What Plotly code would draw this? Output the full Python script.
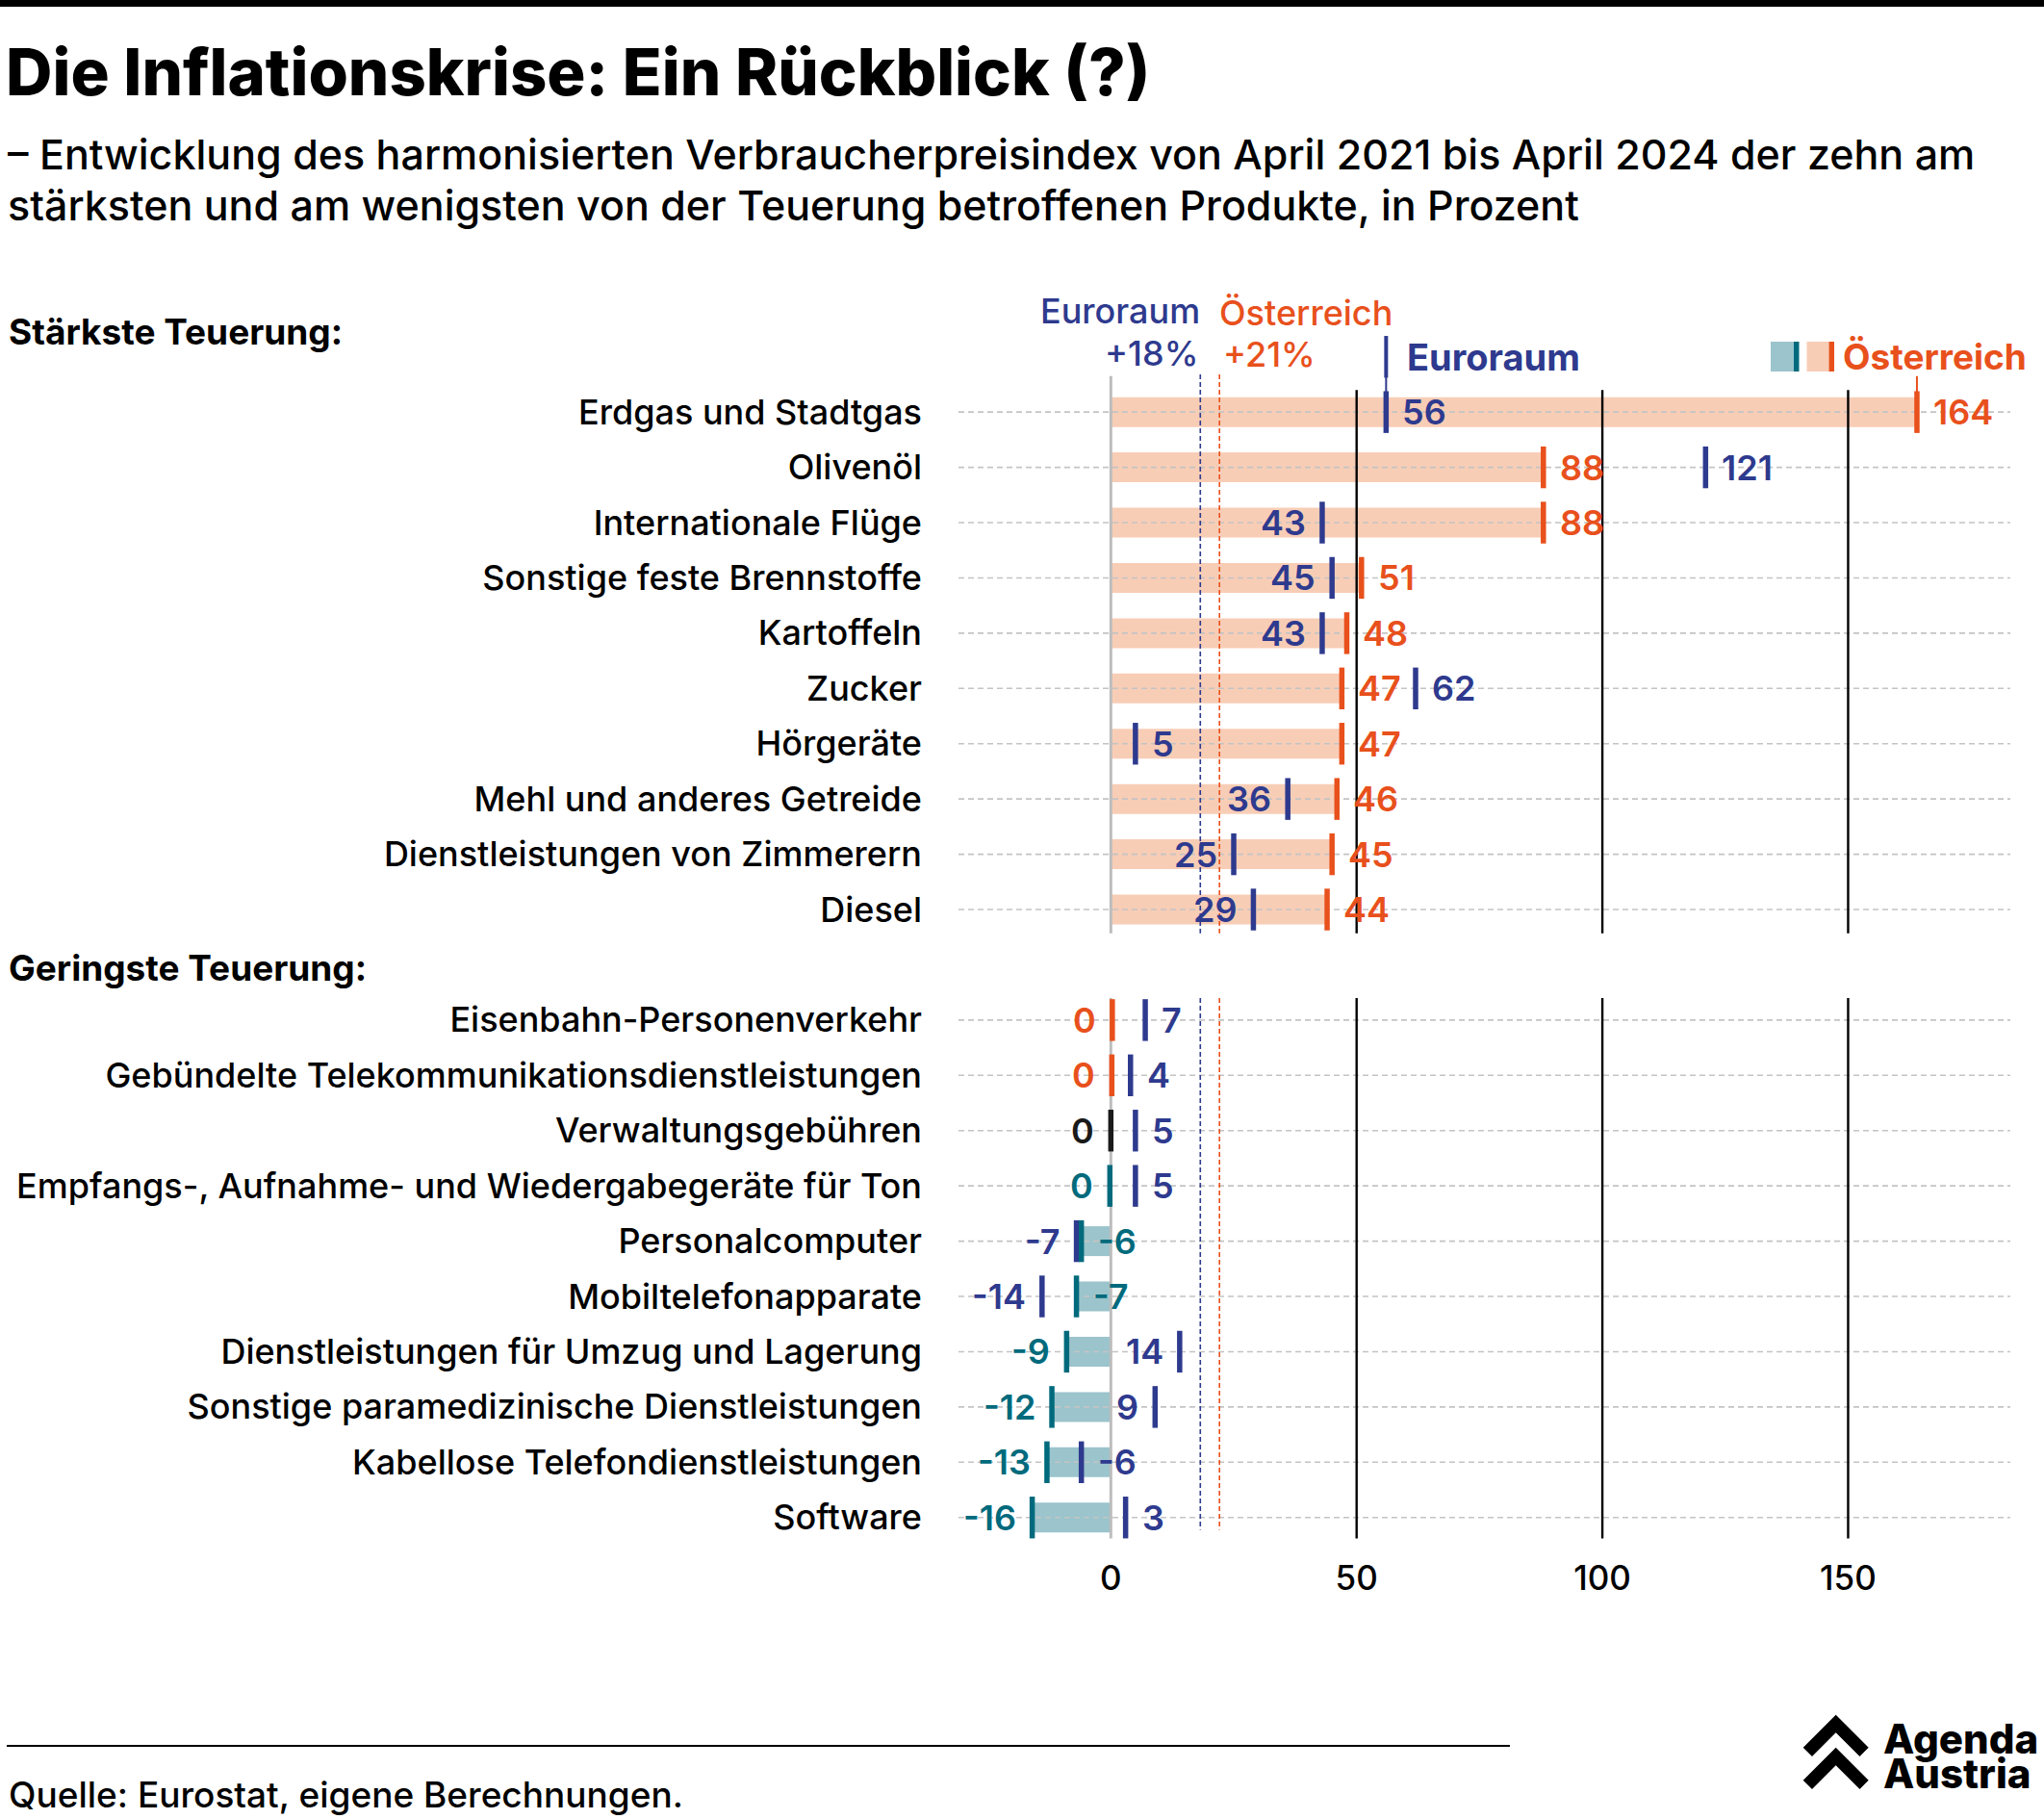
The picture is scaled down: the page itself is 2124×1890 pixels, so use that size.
import plotly.graph_objects as go

# ---- data -------------------------------------------------------------
top_labels = [
    "Erdgas und Stadtgas", "Olivenöl", "Internationale Flüge",
    "Sonstige feste Brennstoffe", "Kartoffeln", "Zucker", "Hörgeräte",
    "Mehl und anderes Getreide", "Dienstleistungen von Zimmerern", "Diesel",
]
top_at = [164, 88, 88, 51, 48, 47, 47, 46, 45, 44]
top_eu = [56, 121, 43, 45, 43, 62, 5, 36, 25, 29]

bottom_labels = [
    "Eisenbahn-Personenverkehr",
    "Gebündelte Telekommunikationsdienstleistungen",
    "Verwaltungsgebühren",
    "Empfangs-, Aufnahme- und Wiedergabegeräte für Ton",
    "Personalcomputer", "Mobiltelefonapparate",
    "Dienstleistungen für Umzug und Lagerung",
    "Sonstige paramedizinische Dienstleistungen",
    "Kabellose Telefondienstleistungen", "Software",
]
bottom_at = [0.3, 0.2, 0.0, -0.2, -6, -7, -9, -12, -13, -16]
bottom_eu = [7, 4, 5, 5, -7, -14, 14, 9, -6, 3]

avg_eu = 18.2
avg_at = 22.1
avg_eu_text = "+18%"
avg_at_text = "+21%"
x_ticks = [0, 50, 100, 150]

# ---- style -------------------------------------------------------------
FONT = "Inter"
BLUE = "#2E3A8E"
ORANGE = "#E8501C"
PEACH = "#F8CDB6"
TEAL = "#006A7D"
TEAL_LIGHT = "#9BC4CC"
GREY = "#BDBDBD"

W, H = 2124, 1890
L, R, T, B = 996, 2089, 280, 1600
X_MIN, X_MAX = -31, 183


def px(x):
    return (x - L) / (R - L)


def py(y):
    return (B - y) / (B - T)


def at_color(v, pos_color):
    if v > 0:
        return pos_color
    if v < 0:
        return TEAL
    return "#1A1A1A"


top_y = list(range(len(top_labels)))
bot_y = [len(top_labels) + 1 + i for i in range(len(bottom_labels))]
all_y = top_y + bot_y
all_at = top_at + bottom_at
all_eu = top_eu + bottom_eu

fig = go.Figure()

# bars (Austria)
fig.add_trace(go.Bar(
    x=all_at, y=all_y, orientation="h", width=0.54,
    marker=dict(color=[PEACH if v > 0 else TEAL_LIGHT for v in all_at], line=dict(width=0)),
    hoverinfo="skip",
))

# dashed row lines
gx, gy = [], []
for y in all_y:
    gx += [X_MIN, X_MAX, None]
    gy += [y, y, None]
fig.add_trace(go.Scatter(x=gx, y=gy, mode="lines",
                         line=dict(color="#C4C4C4", width=1.6, dash="6px,4px"),
                         hoverinfo="skip"))

top_span = (-0.4, 9.43)
bot_span = (10.6, 20.38)


def vline(x, spans, color, width, dash="solid"):
    xs, ys = [], []
    for a, b in spans:
        xs += [x, x, None]
        ys += [a, b, None]
    fig.add_trace(go.Scatter(x=xs, y=ys, mode="lines",
                             line=dict(color=color, width=width, dash=dash),
                             hoverinfo="skip"))


for v in x_ticks:
    if v == 0:
        vline(v, [(-0.65, top_span[1]), bot_span], GREY, 3)
    else:
        vline(v, [top_span, bot_span], "#000000", 2.4)
vline(avg_eu, [(-0.68, top_span[1]), (bot_span[0], 20.22)], BLUE, 1.6, "5px,3px")
vline(avg_at, [(-0.68, top_span[1]), (bot_span[0], 20.22)], ORANGE, 1.6, "5px,3px")

# pointer lines from legend to first row
fig.add_trace(go.Scatter(x=[top_eu[0], top_eu[0]], y=[-1.0, 0], mode="lines",
                         line=dict(color=BLUE, width=2), hoverinfo="skip"))
fig.add_trace(go.Scatter(x=[top_at[0], top_at[0]], y=[-0.65, 0], mode="lines",
                         line=dict(color=ORANGE, width=2), hoverinfo="skip"))

# tick markers
at_colors = [ORANGE] * len(top_at) + [at_color(v, ORANGE) for v in bottom_at]
fig.add_trace(go.Scatter(
    x=all_eu, y=all_y, mode="markers",
    marker=dict(symbol="line-ns", size=31, line=dict(width=5.5, color=BLUE)),
    hoverinfo="skip"))
fig.add_trace(go.Scatter(
    x=all_at, y=all_y, mode="markers",
    marker=dict(symbol="line-ns", size=31, line=dict(width=5.5, color=at_colors)),
    hoverinfo="skip"))
# legend marker Euroraum
fig.add_trace(go.Scatter(
    x=[top_eu[0]], y=[-1.0], mode="markers",
    marker=dict(symbol="line-ns", size=31, line=dict(width=4, color=BLUE)),
    hoverinfo="skip"))

annotations = []


def val_label(x, y, text, color, side):
    annotations.append(dict(
        x=x, y=y, xref="x", yref="y", text=text, showarrow=False,
        xanchor="left" if side == "right" else "right", yanchor="middle",
        xshift=15 if side == "right" else -15,
        font=dict(family=FONT, size=36, color=color, weight=600)))


for y, a, e in zip(top_y, top_at, top_eu):
    val_label(a, y, f"{round(a)}", ORANGE, "right")
    e_side = "left" if (e < a and a - e < 50 and e >= 10) else "right"
    val_label(e, y, f"{round(e)}", BLUE, e_side)

for y, a, e in zip(bot_y, bottom_at, bottom_eu):
    a_side = "right" if e < a else "left"
    val_label(a, y, f"{round(a)}", at_color(a, ORANGE), a_side)
    e_side = "left" if (e < a or e > 8) else "right"
    val_label(e, y, f"{round(e)}", BLUE, e_side)

# averages
annotations += [
    dict(x=avg_eu, y=-1.84, xref="x", yref="y", text="Euroraum", showarrow=False,
         xanchor="right", yanchor="middle", xshift=2,
         font=dict(family=FONT, size=36, color=BLUE, weight=500)),
    dict(x=avg_eu, y=-1.07, xref="x", yref="y", text=avg_eu_text, showarrow=False,
         xanchor="right", yanchor="middle", xshift=0,
         font=dict(family=FONT, size=36, color=BLUE, weight=500)),
    dict(x=avg_at, y=-1.80, xref="x", yref="y", text="Österreich", showarrow=False,
         xanchor="left", yanchor="middle", xshift=-2,
         font=dict(family=FONT, size=36, color=ORANGE, weight=500)),
    dict(x=avg_at, y=-1.04, xref="x", yref="y", text=avg_at_text, showarrow=False,
         xanchor="left", yanchor="middle", xshift=2,
         font=dict(family=FONT, size=36, color=ORANGE, weight=500)),
]

# legend texts
annotations += [
    dict(x=top_eu[0], y=-1.0, xref="x", yref="y", text="Euroraum", showarrow=False,
         xanchor="left", yanchor="middle", xshift=20,
         font=dict(family=FONT, size=38, color=BLUE, weight=700)),
    dict(x=px(1913), y=py(370), xref="paper", yref="paper", text="Österreich",
         showarrow=False, xanchor="left", yanchor="middle",
         font=dict(family=FONT, size=37, color=ORANGE, weight=700)),
]

# titles and headers
annotations += [
    dict(x=px(4), y=py(74), xref="paper", yref="paper",
         text="Die Inflationskrise: Ein Rückblick (?)", showarrow=False,
         xanchor="left", yanchor="middle",
         font=dict(family=FONT, size=67, color="#000000", weight=800)),
    dict(x=px(6), y=py(160), xref="paper", yref="paper",
         text="– Entwicklung des harmonisierten Verbraucherpreisindex von April 2021 bis April 2024 der zehn am",
         showarrow=False, xanchor="left", yanchor="middle",
         font=dict(family=FONT, size=43, color="#000000", weight=500)),
    dict(x=px(6), y=py(213), xref="paper", yref="paper",
         text="stärksten und am wenigsten von der Teuerung betroffenen Produkte, in Prozent",
         showarrow=False, xanchor="left", yanchor="middle",
         font=dict(family=FONT, size=43, color="#000000", weight=500)),
    dict(x=px(7), y=py(345), xref="paper", yref="paper", text="Stärkste Teuerung:",
         showarrow=False, xanchor="left", yanchor="middle",
         font=dict(family=FONT, size=37, color="#000000", weight=700)),
    dict(x=px(7), y=py(1005), xref="paper", yref="paper", text="Geringste Teuerung:",
         showarrow=False, xanchor="left", yanchor="middle",
         font=dict(family=FONT, size=37, color="#000000", weight=700)),
    dict(x=px(7), y=py(1864), xref="paper", yref="paper",
         text="Quelle: Eurostat, eigene Berechnungen.", showarrow=False,
         xanchor="left", yanchor="middle",
         font=dict(family=FONT, size=37, color="#000000", weight=500)),
    dict(x=px(1955), y=py(1806), xref="paper", yref="paper", text="Agenda",
         showarrow=False, xanchor="left", yanchor="middle",
         font=dict(family=FONT, size=42, color="#000000", weight=800)),
    dict(x=px(1955), y=py(1842), xref="paper", yref="paper", text="Austria",
         showarrow=False, xanchor="left", yanchor="middle",
         font=dict(family=FONT, size=42, color="#000000", weight=800)),
]


def rect(x0, y0, x1, y1, color):
    return dict(type="rect", xref="paper", yref="paper",
                x0=px(x0), x1=px(x1), y0=py(y0), y1=py(y1),
                fillcolor=color, line=dict(width=0), layer="above")


def chevron(top):
    pts = [(1907.7, top), (1941.7, top + 34), (1932.5, top + 43.3),
           (1907.7, top + 18.5), (1883, top + 43.3), (1873.7, top + 34)]
    path = "M " + " L ".join(f"{px(x):.5f},{py(y):.5f}" for x, y in pts) + " Z"
    return dict(type="path", xref="paper", yref="paper", path=path,
                fillcolor="#000000", line=dict(width=0))


shapes = [
    rect(0, 0, W, 7, "#000000"),
    dict(type="line", xref="paper", yref="paper", x0=px(7), x1=px(1569),
         y0=py(1814), y1=py(1814), line=dict(color="#000000", width=2)),
    # legend swatches Österreich
    rect(1840, 355, 1864, 386, TEAL_LIGHT),
    rect(1864, 355, 1869.5, 386, TEAL),
    rect(1877.5, 355, 1900.5, 386, PEACH),
    rect(1900.5, 355, 1906, 386, ORANGE),
    chevron(1781.7),
    chevron(1815.7),
]

fig.update_layout(
    width=W, height=H,
    margin=dict(l=L, r=W - R, t=T, b=H - B),
    plot_bgcolor="white", paper_bgcolor="white",
    showlegend=False,
    font=dict(family=FONT, color="#000000"),
    annotations=annotations,
    shapes=shapes,
    xaxis=dict(range=[X_MIN, X_MAX], tickvals=x_ticks, showgrid=False,
               zeroline=False, showline=False, ticks="",
               tickfont=dict(family=FONT, size=35, color="#000000", weight=500),
               ticklabelstandoff=16),
    yaxis=dict(range=[20.405, -2.58], tickvals=all_y,
               ticktext=top_labels + bottom_labels, showgrid=False,
               zeroline=False, showline=False, ticks="",
               tickfont=dict(family=FONT, size=36, color="#000000", weight=500),
               ticklabelstandoff=37),
)

fig.write_html("out.html", config={"displayModeBar": False},
               post_script="document.body.style.margin='0';")
